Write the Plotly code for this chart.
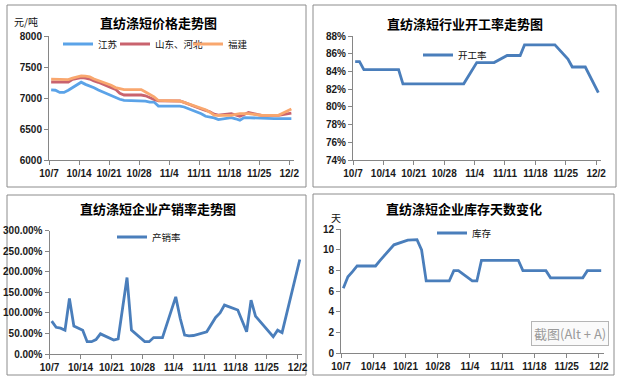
import pandas as pd
import plotly.graph_objects as go

# ---------------- data ----------------
dates = ["2019-10-07", "2019-10-08", "2019-10-09", "2019-10-10", "2019-10-11", "2019-10-12",
         "2019-10-14", "2019-10-15", "2019-10-16", "2019-10-17", "2019-10-18",
         "2019-10-21", "2019-10-22", "2019-10-23", "2019-10-24", "2019-10-25",
         "2019-10-28", "2019-10-29", "2019-10-30", "2019-10-31", "2019-11-01",
         "2019-11-04", "2019-11-05", "2019-11-06", "2019-11-07", "2019-11-08",
         "2019-11-11", "2019-11-12", "2019-11-13", "2019-11-14", "2019-11-15",
         "2019-11-18", "2019-11-19", "2019-11-20", "2019-11-21", "2019-11-22",
         "2019-11-25", "2019-11-26", "2019-11-27", "2019-11-28", "2019-11-29",
         "2019-12-02"]

jiangsu = [7130, 7125, 7090, 7090, 7125, 7170,
           7255, 7220, 7195, 7165, 7130,
           7045, 7005, 6980, 6962, 6962,
           6962, 6950, 6935, 6935, 6870,
           6870, 6870, 6870, 6855, 6830,
           6745, 6705, 6690, 6680, 6652,
           6682, 6665, 6642, 6684, 6680,
           6668, 6667, 6667, 6667, 6667,
           6667]

shandong_hebei = [7258, 7256, 7255, 7252, 7255, 7300,
                  7329, 7322, 7305, 7275, 7253,
                  7165, 7140, 7075, 7048, 7048,
                  7048, 7035, 7000, 6975, 6955,
                  6952, 6952, 6952, 6930, 6900,
                  6823, 6800, 6778, 6740, 6725,
                  6748, 6727, 6705, 6735, 6765,
                  6720, 6720, 6720, 6720, 6720,
                  6755]

fujian = [7305, 7302, 7300, 7298, 7296, 7320,
          7355, 7352, 7340, 7307, 7283,
          7205, 7168, 7148, 7135, 7135,
          7135, 7098, 7055, 7018, 6960,
          6952, 6952, 6952, 6930, 6906,
          6845, 6810, 6771, 6725, 6720,
          6720, 6734, 6748, 6748, 6748,
          6722, 6720, 6720, 6720, 6720,
          6823]

kaigong = [85.1, 85.1, 84.2, 84.2, 84.2, 84.2,
           84.2, 84.2, 84.2, 84.2, 82.6,
           82.6, 82.6, 82.6, 82.6, 82.6,
           82.6, 82.6, 82.6, 82.6, 82.6,
           85.0, 85.0, 85.0, 85.0, 85.0,
           85.8, 85.8, 85.8, 85.8, 87.0,
           87.0, 87.0, 87.0, 87.0, 87.0,
           85.4, 84.5, 84.5, 84.5, 84.5,
           81.6]

kucun = [6.3, 7.4, 7.9, 8.45, 8.45, 8.45,
         8.45, 9.0, 9.5, 10.0, 10.5,
         10.95, 11.0, 11.0, 10.0, 7.0,
         7.0, 7.0, 7.0, 8.0, 8.0,
         7.0, 7.0, 9.0, 9.0, 9.0,
         9.0, 9.0, 9.0, 9.0, 8.0,
         8.0, 8.0, 8.0, 7.3, 7.3,
         7.3, 7.3, 7.3, 7.3, 8.0,
         8.0]

cx_dates = ["2019-10-07", "2019-10-08", "2019-10-09", "2019-10-10", "2019-10-11", "2019-10-12",
            "2019-10-14", "2019-10-15", "2019-10-16", "2019-10-17", "2019-10-18",
            "2019-10-21", "2019-10-22", "2019-10-24", "2019-10-25",
            "2019-10-28", "2019-10-29", "2019-10-30", "2019-10-31", "2019-11-01",
            "2019-11-04", "2019-11-05", "2019-11-06", "2019-11-07", "2019-11-08",
            "2019-11-11", "2019-11-13", "2019-11-14", "2019-11-15",
            "2019-11-18", "2019-11-20", "2019-11-21", "2019-11-22",
            "2019-11-26", "2019-11-27", "2019-11-28",
            "2019-12-02"]
chanxiao = [80, 65, 63, 58, 135, 68,
            58, 30, 30, 35, 49,
            34, 37, 186, 58,
            30, 30, 40, 40, 40,
            139, 87, 46, 44, 45,
            54, 89, 100, 119,
            107, 54, 131, 92,
            42, 58, 52,
            230]

tick_dates = ["2019-10-07", "2019-10-14", "2019-10-21", "2019-10-28", "2019-11-04",
              "2019-11-11", "2019-11-18", "2019-11-25", "2019-12-02"]
tick_labels = ["10/7", "10/14", "10/21", "10/28", "11/4", "11/11", "11/18", "11/25", "12/2"]

# ---------------- layout helpers ----------------
W, H = 626, 385
def fx(p):
    return p / W
def fy(p):
    return 1 - p / H

half_day = pd.Timedelta(hours=12)
xd = pd.to_datetime(dates) + half_day
xc = pd.to_datetime(cx_dates) + half_day

CJK = "Noto Sans CJK SC"
AXC = "#868686"
LW = 2.8

fig = go.Figure()

fig.add_trace(go.Scatter(x=xd, y=jiangsu, name="江苏", mode="lines",
                         line=dict(color="#5BA3E8", width=LW), xaxis="x", yaxis="y", legend="legend"))
fig.add_trace(go.Scatter(x=xd, y=shandong_hebei, name="山东、河北", mode="lines",
                         line=dict(color="#C9636E", width=LW), xaxis="x", yaxis="y", legend="legend5"))
fig.add_trace(go.Scatter(x=xd, y=fujian, name="福建", mode="lines",
                         line=dict(color="#F9A76E", width=LW), xaxis="x", yaxis="y", legend="legend6"))
fig.add_trace(go.Scatter(x=xd, y=kaigong, name="开工率", mode="lines",
                         line=dict(color="#4A7EBB", width=LW), xaxis="x2", yaxis="y2", legend="legend2"))
fig.add_trace(go.Scatter(x=xc, y=chanxiao, name="产销率", mode="lines",
                         line=dict(color="#4A7EBB", width=LW), xaxis="x3", yaxis="y3", legend="legend3"))
fig.add_trace(go.Scatter(x=xd, y=kucun, name="库存", mode="lines",
                         line=dict(color="#4A7EBB", width=LW), xaxis="x4", yaxis="y4", legend="legend4"))

tickfont = dict(family="Liberation Sans, Arial", size=10, color="#1a1a1a", weight="bold")

def xaxis(x0, x1, anchor):
    return dict(domain=[fx(x0), fx(x1)], anchor=anchor, type="date",
                range=["2019-10-07", "2019-12-03"],
                tickvals=tick_dates, ticktext=tick_labels, automargin=False,
                showline=True, linecolor=AXC, linewidth=1, ticks="outside", ticklen=4,
                tickcolor=AXC, showgrid=False, zeroline=False, tickfont=tickfont, fixedrange=True)

def yaxis(ytop, ybot, anchor, rng, dtick, **kw):
    d = dict(domain=[fy(ybot), fy(ytop)], anchor=anchor, range=rng, dtick=dtick, tick0=rng[0],
             showline=True, linecolor=AXC, linewidth=1, ticks="outside", ticklen=4, automargin=False,
             tickcolor=AXC, showgrid=False, zeroline=False, tickfont=tickfont, fixedrange=True)
    d.update(kw)
    return d

legend_common = dict(bgcolor="rgba(0,0,0,0)", borderwidth=0,
                     font=dict(family=CJK, size=9.5, color="#111"),
                     orientation="h", xanchor="left", yanchor="middle",
                     itemwidth=30, tracegroupgap=0)

fig.update_layout(
    width=W, height=H, margin=dict(l=0, r=0, t=0, b=0, autoexpand=False),
    paper_bgcolor="white", plot_bgcolor="white",
    xaxis=xaxis(49, 293.5, "y"),
    yaxis=yaxis(36, 160, "x", [6000, 8000], 500),
    xaxis2=xaxis(353, 600.5, "y2"),
    yaxis2=yaxis(36, 160, "x2", [74, 88], 2, ticksuffix="%"),
    xaxis3=xaxis(49.5, 302, "y3"),
    yaxis3=yaxis(230.7, 354, "x3", [0, 300], 50, ticksuffix="%", tickformat=".2f"),
    xaxis4=xaxis(341, 603.5, "y4"),
    yaxis4=yaxis(229.3, 353.3, "x4", [0, 12], 2),
    legend=dict(legend_common, x=fx(58), y=fy(44)),
    legend5=dict(legend_common, x=fx(115), y=fy(44)),
    legend6=dict(legend_common, x=fx(188), y=fy(44)),
    legend2=dict(legend_common, x=fx(418), y=fy(55)),
    legend3=dict(legend_common, x=fx(112), y=fy(237)),
    legend4=dict(legend_common, x=fx(432), y=fy(233)),
    showlegend=True,
)

# panel borders
for (x0, y0, x1, y1) in [(7, 5, 306, 187), (313, 5, 616, 187), (7, 195, 306, 375), (313, 194, 614, 375)]:
    fig.add_shape(type="rect", xref="paper", yref="paper",
                  x0=fx(x0), x1=fx(x1), y0=fy(y1), y1=fy(y0),
                  line=dict(color="#8C8C8C", width=1), fillcolor="rgba(0,0,0,0)", layer="below")

titles = [("直纺涤短价格走势图", 158, 22), ("直纺涤短行业开工率走势图", 465, 23),
          ("直纺涤短企业产销率走势图", 158, 209), ("直纺涤短企业库存天数变化", 464, 209)]
for t, cx, cy in titles:
    fig.add_annotation(text="<b>" + t + "</b>", x=fx(cx), y=fy(cy), xref="paper", yref="paper",
                       showarrow=False, xanchor="center", yanchor="middle",
                       font=dict(family=CJK, size=13, color="#000"))

fig.add_annotation(text="元/吨", x=fx(26), y=fy(21), xref="paper", yref="paper", showarrow=False,
                   xanchor="center", yanchor="middle", font=dict(family=CJK, size=10, color="#111"))
fig.add_annotation(text="天", x=fx(336), y=fy(217), xref="paper", yref="paper", showarrow=False,
                   xanchor="center", yanchor="middle", font=dict(family=CJK, size=10, color="#111"))

# screenshot tooltip overlay present in the reference
fig.add_annotation(text="截图(Alt + A)", x=fx(569.5), y=fy(333.5), xref="paper", yref="paper",
                   showarrow=False, xanchor="center", yanchor="middle",
                   font=dict(family=CJK, size=13, color="#9a9a9a"),
                   bgcolor="#fafafa", bordercolor="#b5b5b5", borderwidth=1, borderpad=2)

fig.write_html("out.html", config={"displayModeBar": False},
               post_script="document.body.style.margin='0';document.body.style.padding='0';")
